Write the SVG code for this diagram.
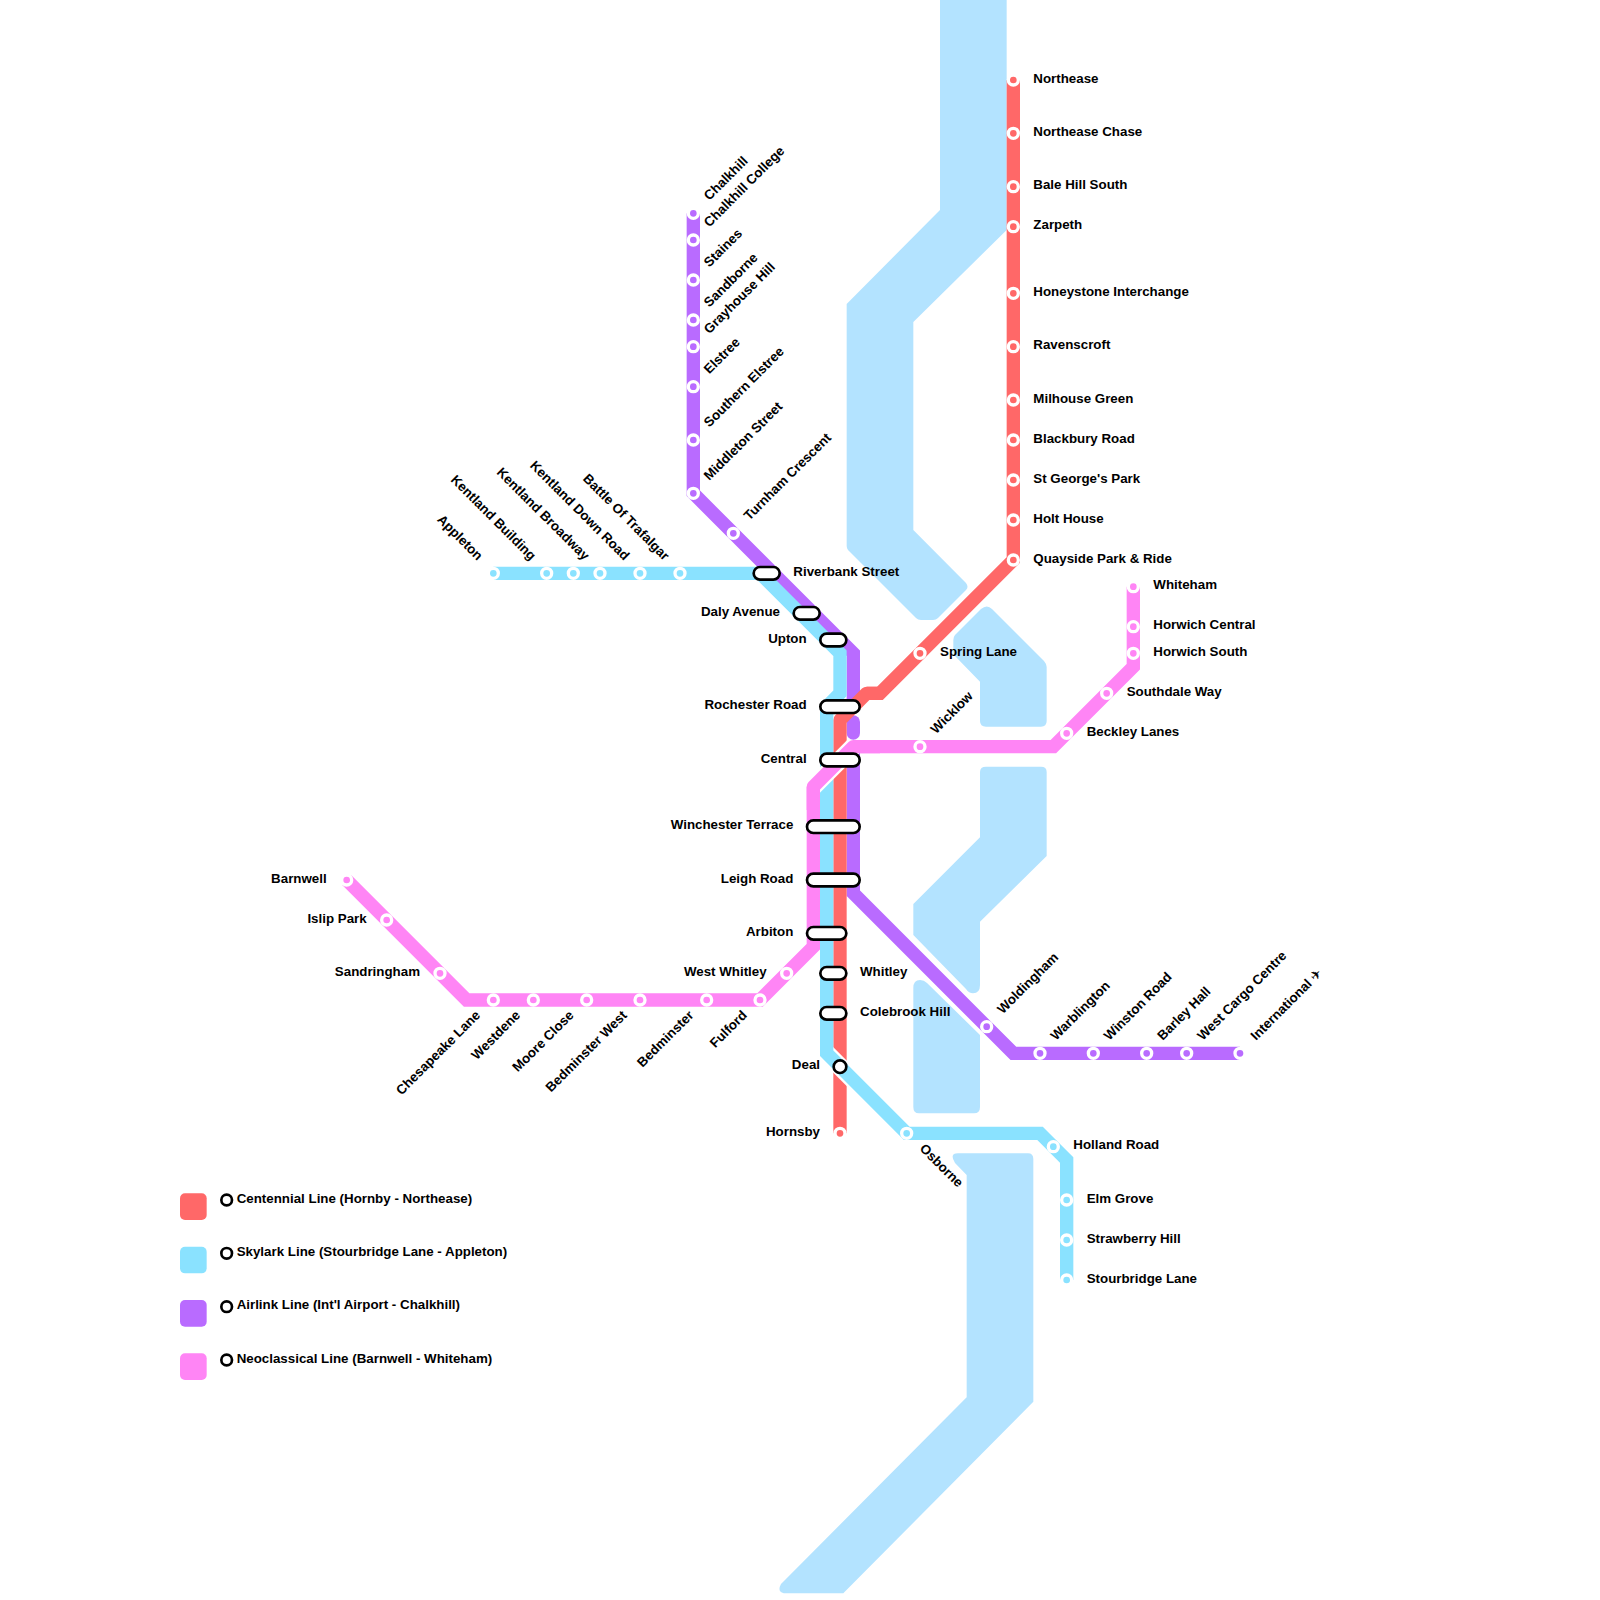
<svg xmlns="http://www.w3.org/2000/svg" width="1600" height="1600" viewBox="0 0 1600 1600">
<style>
text{font-family:"Liberation Sans","DejaVu Sans",sans-serif;font-size:13.33px;font-weight:700;fill:#000}
.e{text-anchor:end}
.w{fill:#b3e3ff}
.l{fill:none;stroke-width:13.33;stroke-linejoin:miter;stroke-linecap:butt}
.rj{stroke-linejoin:round}
.rc{stroke-linecap:round}
.c{fill:none;stroke:#fff;stroke-width:18}
.cr{stroke:#ff6868}.cs{stroke:#8ae2ff}.ca{stroke:#b96bff}.cn{stroke:#ff85f5}
.s{stroke:#fff;stroke-width:3.33}
.fr{fill:#ff6868}.fs{fill:#8ae2ff}.fa{fill:#b96bff}.fn{fill:#ff85f5}
.x{fill:#fff;stroke:#000;stroke-width:2.67}
</style>
<g id="water">
<path class="w" d="M940,0H1006.67V230L913.33,322V530L966,583Q969,587 966,590L938,618Q936,620 933,620H921Q918,620 916,618L848,550Q846.67,548 846.67,546V304L940,210Z"/>
<path class="w" d="M981,609Q987,604 992,609L1044,661Q1046.67,664 1046.67,667V721Q1046.67,726.67 1041,726.67H986Q980,726.67 980,721V681.7L955,656Q953.33,654 953.33,651V640Q953.33,637 955,635Z"/>
<path class="w" d="M986,766.67H1041Q1046.67,766.67 1046.67,772V856L980,921.7V985Q980,993.33 973,993.33Q969,993.33 966,989L913.33,935V904L980,837.3V772Q980,766.67 986,766.67Z"/>
<path class="w" d="M913.33,988Q913.33,980 920,980Q924,980 927,983L980,1035V1107Q980,1113.33 974,1113.33H919Q913.33,1113.33 913.33,1107Z"/>
<path class="w" d="M958,1153.33H1028Q1033.33,1153.33 1033.33,1159V1401.7L843.3,1593.33H787Q776,1593.33 781,1584L966.67,1397.3V1175L955,1163Q949,1153.33 958,1153.33Z"/>
</g>
<g id="connectors">
<path class="l ca" d="M693.33,213.33V493.33L853.33,653.33V705"/>
<path class="l ca rc" d="M853.33,722V733"/>
<path class="l ca" d="M853.33,750V893.33L1013.33,1053.33H1240"/>
<path class="l cr" d="M1013.33,80V560L880,693.33H866.67"/>
<path class="l cr rj" d="M880,693.33H866.67L840,720V1133.33"/>
<path class="c" d="M820,1046.67L860,1086.67"/>
<path class="l cs" d="M493.33,573.33H760L840,653.33V693.33L826.67,706.67V1053.33L906.67,1133.33H1040L1066.67,1160V1280"/>
<path class="c" d="M813.33,786.67L853.33,746.67"/>
<path class="l cn" d="M346.67,880L466.67,1000H760L813.33,946.67V786.67"/>
<path class="l cn rj" d="M813.33,810V786.67L853.33,746.67H880"/>
<path class="l cn" d="M860,746.67H1053.33L1133.33,666.67V586.67"/>
</g>
<g id="line-centennial-stations">
<g id="northease"><circle class="s fr" cx="1013.33" cy="80" r="5"/><text x="1033.33" y="82.67">Northease</text></g>
<g id="northease-chase"><circle class="s fr" cx="1013.33" cy="133.33" r="5"/><text x="1033.33" y="136">Northease Chase</text></g>
<g id="bale-hill-south"><circle class="s fr" cx="1013.33" cy="186.67" r="5"/><text x="1033.33" y="189.33">Bale Hill South</text></g>
<g id="zarpeth"><circle class="s fr" cx="1013.33" cy="226.67" r="5"/><text x="1033.33" y="229.33">Zarpeth</text></g>
<g id="honeystone"><circle class="s fr" cx="1013.33" cy="293.33" r="5"/><text x="1033.33" y="296">Honeystone Interchange</text></g>
<g id="ravenscroft"><circle class="s fr" cx="1013.33" cy="346.67" r="5"/><text x="1033.33" y="349.33">Ravenscroft</text></g>
<g id="milhouse-green"><circle class="s fr" cx="1013.33" cy="400" r="5"/><text x="1033.33" y="402.67">Milhouse Green</text></g>
<g id="blackbury-road"><circle class="s fr" cx="1013.33" cy="440" r="5"/><text x="1033.33" y="442.67">Blackbury Road</text></g>
<g id="st-georges-park"><circle class="s fr" cx="1013.33" cy="480" r="5"/><text x="1033.33" y="482.67">St George's Park</text></g>
<g id="holt-house"><circle class="s fr" cx="1013.33" cy="520" r="5"/><text x="1033.33" y="522.67">Holt House</text></g>
<g id="quayside"><circle class="s fr" cx="1013.33" cy="560" r="5"/><text x="1033.33" y="562.67">Quayside Park &amp; Ride</text></g>
<g id="spring-lane"><circle class="s fr" cx="920" cy="653.33" r="5"/><text x="940" y="656">Spring Lane</text></g>
<g id="hornsby"><circle class="s fr" cx="840" cy="1133.33" r="5"/><text class="e" x="820" y="1136">Hornsby</text></g>
</g>
<g id="line-skylark-stations">
<g id="appleton"><circle class="s fs" cx="493.33" cy="573.33" r="5"/><text class="e" transform="translate(493.33 573.33) rotate(45)" x="-20" y="2.67">Appleton</text></g>
<g id="kentland-building"><circle class="s fs" cx="546.67" cy="573.33" r="5"/><text class="e" transform="translate(546.67 573.33) rotate(45)" x="-20" y="2.67">Kentland Building</text></g>
<g id="kentland-broadway"><circle class="s fs" cx="573.33" cy="573.33" r="5"/><text class="e" transform="translate(600 573.33) rotate(45)" x="-20" y="2.67">Kentland Broadway</text></g>
<g id="kentland-down-road"><circle class="s fs" cx="600" cy="573.33" r="5"/><text class="e" transform="translate(640 573.33) rotate(45)" x="-20" y="2.67">Kentland Down Road</text></g>
<g id="battle-of-trafalgar"><circle class="s fs" cx="640" cy="573.33" r="5"/><text class="e" transform="translate(680 573.33) rotate(45)" x="-20" y="2.67">Battle Of Trafalgar</text></g>
<g id="skylark-extra"><circle class="s fs" cx="680" cy="573.33" r="5"/></g>
<g id="osborne"><circle class="s fs" cx="906.67" cy="1133.33" r="5"/><text transform="translate(906.67 1133.33) rotate(45)" x="20" y="2.67">Osborne</text></g>
<g id="holland-road"><circle class="s fs" cx="1053.33" cy="1146.67" r="5"/><text x="1073.33" y="1149.33">Holland Road</text></g>
<g id="elm-grove"><circle class="s fs" cx="1066.67" cy="1200" r="5"/><text x="1086.67" y="1202.67">Elm Grove</text></g>
<g id="strawberry-hill"><circle class="s fs" cx="1066.67" cy="1240" r="5"/><text x="1086.67" y="1242.67">Strawberry Hill</text></g>
<g id="stourbridge-lane"><circle class="s fs" cx="1066.67" cy="1280" r="5"/><text x="1086.67" y="1282.67">Stourbridge Lane</text></g>
</g>
<g id="line-airlink-stations">
<g id="chalkhill"><circle class="s fa" cx="693.33" cy="213.33" r="5"/><text transform="translate(693.33 213.33) rotate(-45)" x="20" y="2.67">Chalkhill</text></g>
<g id="chalkhill-college"><circle class="s fa" cx="693.33" cy="240" r="5"/><text transform="translate(693.33 240) rotate(-45)" x="20" y="2.67">Chalkhill College</text></g>
<g id="staines"><circle class="s fa" cx="693.33" cy="280" r="5"/><text transform="translate(693.33 280) rotate(-45)" x="20" y="2.67">Staines</text></g>
<g id="sandborne"><circle class="s fa" cx="693.33" cy="320" r="5"/><text transform="translate(693.33 320) rotate(-45)" x="20" y="2.67">Sandborne</text></g>
<g id="grayhouse-hill"><circle class="s fa" cx="693.33" cy="346.67" r="5"/><text transform="translate(693.33 346.67) rotate(-45)" x="20" y="2.67">Grayhouse Hill</text></g>
<g id="elstree"><circle class="s fa" cx="693.33" cy="386.67" r="5"/><text transform="translate(693.33 386.67) rotate(-45)" x="20" y="2.67">Elstree</text></g>
<g id="southern-elstree"><circle class="s fa" cx="693.33" cy="440" r="5"/><text transform="translate(693.33 440) rotate(-45)" x="20" y="2.67">Southern Elstree</text></g>
<g id="middleton-street"><circle class="s fa" cx="693.33" cy="493.33" r="5"/><text transform="translate(693.33 493.33) rotate(-45)" x="20" y="2.67">Middleton Street</text></g>
<g id="turnham-crescent"><circle class="s fa" cx="733.33" cy="533.33" r="5"/><text transform="translate(733.33 533.33) rotate(-45)" x="20" y="2.67">Turnham Crescent</text></g>
<g id="woldingham"><circle class="s fa" cx="986.67" cy="1026.67" r="5"/><text transform="translate(986.67 1026.67) rotate(-45)" x="20" y="2.67">Woldingham</text></g>
<g id="warblington"><circle class="s fa" cx="1040" cy="1053.33" r="5"/><text transform="translate(1040 1053.33) rotate(-45)" x="20" y="2.67">Warblington</text></g>
<g id="winston-road"><circle class="s fa" cx="1093.33" cy="1053.33" r="5"/><text transform="translate(1093.33 1053.33) rotate(-45)" x="20" y="2.67">Winston Road</text></g>
<g id="barley-hall"><circle class="s fa" cx="1146.67" cy="1053.33" r="5"/><text transform="translate(1146.67 1053.33) rotate(-45)" x="20" y="2.67">Barley Hall</text></g>
<g id="west-cargo-centre"><circle class="s fa" cx="1186.67" cy="1053.33" r="5"/><text transform="translate(1186.67 1053.33) rotate(-45)" x="20" y="2.67">West Cargo Centre</text></g>
<g id="international"><circle class="s fa" cx="1240" cy="1053.33" r="5"/><text transform="translate(1240 1053.33) rotate(-45)" x="20" y="2.67">International ✈</text></g>
</g>
<g id="line-neoclassical-stations">
<g id="barnwell"><circle class="s fn" cx="346.67" cy="880" r="5"/><text class="e" x="326.67" y="882.67">Barnwell</text></g>
<g id="islip-park"><circle class="s fn" cx="386.67" cy="920" r="5"/><text class="e" x="366.67" y="922.67">Islip Park</text></g>
<g id="sandringham"><circle class="s fn" cx="440" cy="973.33" r="5"/><text class="e" x="420" y="976">Sandringham</text></g>
<g id="chesapeake-lane"><circle class="s fn" cx="493.33" cy="1000" r="5"/><text class="e" transform="translate(493.33 1000) rotate(-45)" x="-20" y="2.67">Chesapeake Lane</text></g>
<g id="westdene"><circle class="s fn" cx="533.33" cy="1000" r="5"/><text class="e" transform="translate(533.33 1000) rotate(-45)" x="-20" y="2.67">Westdene</text></g>
<g id="moore-close"><circle class="s fn" cx="586.67" cy="1000" r="5"/><text class="e" transform="translate(586.67 1000) rotate(-45)" x="-20" y="2.67">Moore Close</text></g>
<g id="bedminster-west"><circle class="s fn" cx="640" cy="1000" r="5"/><text class="e" transform="translate(640 1000) rotate(-45)" x="-20" y="2.67">Bedminster West</text></g>
<g id="bedminster"><circle class="s fn" cx="706.67" cy="1000" r="5"/><text class="e" transform="translate(706.67 1000) rotate(-45)" x="-20" y="2.67">Bedminster</text></g>
<g id="fulford"><circle class="s fn" cx="760" cy="1000" r="5"/><text class="e" transform="translate(760 1000) rotate(-45)" x="-20" y="2.67">Fulford</text></g>
<g id="west-whitley"><circle class="s fn" cx="786.67" cy="973.33" r="5"/><text class="e" x="766.67" y="976">West Whitley</text></g>
<g id="wicklow"><circle class="s fn" cx="920" cy="746.67" r="5"/><text transform="translate(920 746.67) rotate(-45)" x="20" y="2.67">Wicklow</text></g>
<g id="beckley-lanes"><circle class="s fn" cx="1066.67" cy="733.33" r="5"/><text x="1086.67" y="736">Beckley Lanes</text></g>
<g id="southdale-way"><circle class="s fn" cx="1106.67" cy="693.33" r="5"/><text x="1126.67" y="696">Southdale Way</text></g>
<g id="horwich-south"><circle class="s fn" cx="1133.33" cy="653.33" r="5"/><text x="1153.33" y="656">Horwich South</text></g>
<g id="horwich-central"><circle class="s fn" cx="1133.33" cy="626.67" r="5"/><text x="1153.33" y="629.33">Horwich Central</text></g>
<g id="whiteham"><circle class="s fn" cx="1133.33" cy="586.67" r="5"/><text x="1153.33" y="589.33">Whiteham</text></g>
</g>
<g id="interchanges">
<g id="riverbank-street"><rect class="x" x="753.67" y="567" width="26" height="12.67" rx="6.33"/><text x="793.33" y="576">Riverbank Street</text></g>
<g id="daly-avenue"><rect class="x" x="793.67" y="607" width="26" height="12.67" rx="6.33"/><text class="e" x="780" y="616">Daly Avenue</text></g>
<g id="upton"><rect class="x" x="820.33" y="633.67" width="26" height="12.67" rx="6.33"/><text class="e" x="806.67" y="642.67">Upton</text></g>
<g id="rochester-road"><rect class="x" x="820.33" y="700.33" width="39.33" height="12.67" rx="6.33"/><text class="e" x="806.67" y="709.33">Rochester Road</text></g>
<g id="central"><rect class="x" x="820.33" y="753.67" width="39.33" height="12.67" rx="6.33"/><text class="e" x="806.67" y="762.67">Central</text></g>
<g id="winchester-terrace"><rect class="x" x="807" y="820.33" width="52.67" height="12.67" rx="6.33"/><text class="e" x="793.33" y="829.33">Winchester Terrace</text></g>
<g id="leigh-road"><rect class="x" x="807" y="873.67" width="52.67" height="12.67" rx="6.33"/><text class="e" x="793.33" y="882.67">Leigh Road</text></g>
<g id="arbiton"><rect class="x" x="807" y="927" width="39.33" height="12.67" rx="6.33"/><text class="e" x="793.33" y="936">Arbiton</text></g>
<g id="whitley"><rect class="x" x="820.33" y="967" width="26" height="12.67" rx="6.33"/><text x="860" y="976">Whitley</text></g>
<g id="colebrook-hill"><rect class="x" x="820.33" y="1007" width="26" height="12.67" rx="6.33"/><text x="860" y="1016">Colebrook Hill</text></g>
<g id="deal"><circle class="x" cx="840" cy="1066.67" r="6.33"/><text class="e" x="820" y="1069.33">Deal</text></g>
</g>
<g id="legend">
<g id="legend-centennial"><rect class="fr" x="180" y="1193.33" width="26.67" height="26.67" rx="5"/><circle class="x" cx="226.67" cy="1200" r="5.33"/><text x="236.67" y="1202.67">Centennial Line (Hornby - Northease)</text></g>
<g id="legend-skylark"><rect class="fs" x="180" y="1246.67" width="26.67" height="26.67" rx="5"/><circle class="x" cx="226.67" cy="1253.33" r="5.33"/><text x="236.67" y="1256">Skylark Line (Stourbridge Lane - Appleton)</text></g>
<g id="legend-airlink"><rect class="fa" x="180" y="1300" width="26.67" height="26.67" rx="5"/><circle class="x" cx="226.67" cy="1306.67" r="5.33"/><text x="236.67" y="1309.33">Airlink Line (Int'l Airport - Chalkhill)</text></g>
<g id="legend-neoclassical"><rect class="fn" x="180" y="1353.33" width="26.67" height="26.67" rx="5"/><circle class="x" cx="226.67" cy="1360" r="5.33"/><text x="236.67" y="1362.67">Neoclassical Line (Barnwell - Whiteham)</text></g>
</g>
</svg>
